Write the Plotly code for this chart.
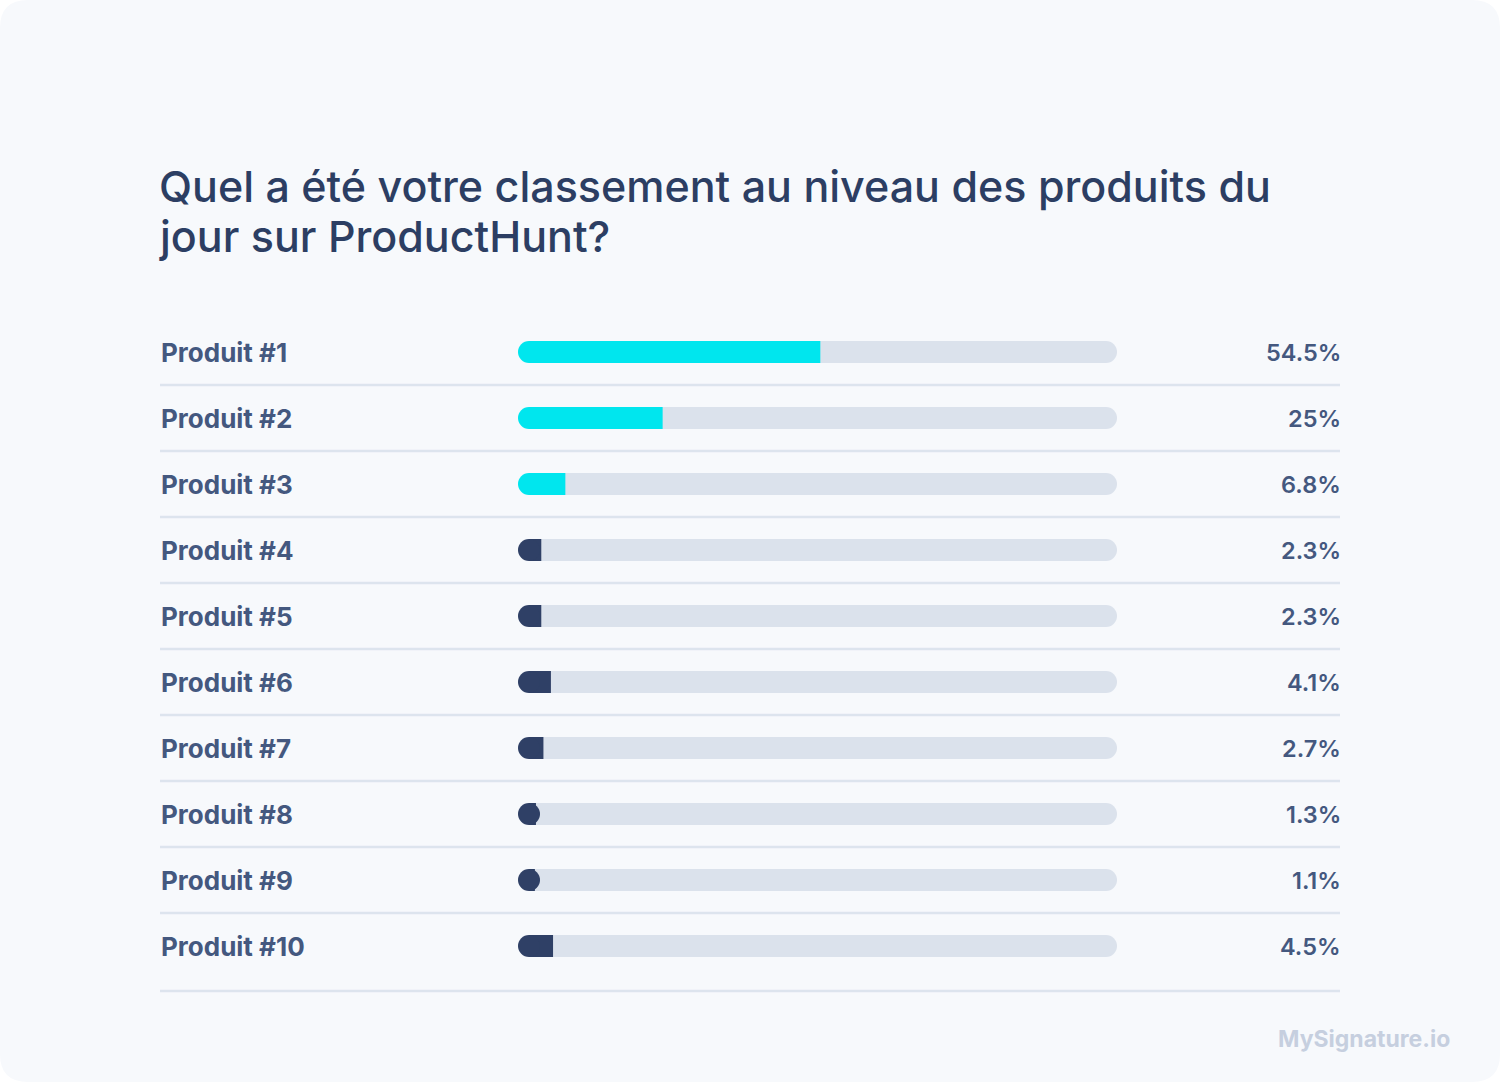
import plotly.graph_objects as go

W, H = 1500, 1082

# ---------------- data ----------------
categories = ["Produit #1", "Produit #2", "Produit #3", "Produit #4", "Produit #5",
              "Produit #6", "Produit #7", "Produit #8", "Produit #9", "Produit #10"]
values = [54.5, 25, 6.8, 2.3, 2.3, 4.1, 2.7, 1.3, 1.1, 4.5]
track_max = 110
title_lines = ["Quel a été votre classement au niveau des produits du",
               "jour sur ProductHunt?"]
watermark = "MySignature.io"

# ---------------- style ----------------
CYAN = "#00E6EE"
NAVY = "#2F4066"
TRACK = "#DBE2EC"
CARD = "#F7F9FC"
LABEL = "#44587F"
TITLE = "#2C3E63"
LINE = "#DDE4EE"
FONT = "Inter"

ypos = list(range(len(categories)))
colors = [CYAN if i < 3 else NAVY for i in ypos]

def px_x(p):
    return p / W

def px_y(p):
    return 1 - p / H

fig = go.Figure()

# grey track
fig.add_trace(go.Bar(
    x=[track_max] * len(categories), y=ypos, orientation="h",
    marker=dict(color=TRACK, cornerradius=11, line=dict(width=0)),
    width=1 / 3, hoverinfo="skip", showlegend=False,
))
# filled value bar
fig.add_trace(go.Bar(
    x=values, y=ypos, orientation="h",
    marker=dict(color=colors, line=dict(width=0)),
    width=1 / 3, hoverinfo="skip", showlegend=False,
))
# round left caps
fig.add_trace(go.Scatter(
    x=[0] * len(categories), y=ypos, mode="markers", cliponaxis=False,
    marker=dict(color=colors, size=22, line=dict(width=0)),
    hoverinfo="skip", showlegend=False,
))

annotations = []
for i, (c, v) in enumerate(zip(categories, values)):
    annotations.append(dict(
        x=px_x(159), xref="paper", y=i, yref="y", text=c,
        xanchor="left", yanchor="middle", showarrow=False,
        font=dict(family=FONT, size=26, color=LABEL, weight=700),
    ))
    annotations.append(dict(
        x=px_x(1343), xref="paper", y=i, yref="y", text=f"{v:g}%",
        xanchor="right", yanchor="middle", showarrow=False,
        font=dict(family=FONT, size=23.5, color=LABEL, weight=600),
    ))

for k, line in enumerate(title_lines):
    annotations.append(dict(
        x=px_x(157), xref="paper", y=px_y(186 + 50 * k), yref="paper", text=line,
        xanchor="left", yanchor="middle", align="left", showarrow=False,
        font=dict(family=FONT, size=43, color=TITLE, weight=500),
    ))
annotations.append(dict(
    x=px_x(1452), xref="paper", y=px_y(1039), yref="paper", text=watermark,
    xanchor="right", yanchor="middle", showarrow=False,
    font=dict(family=FONT, size=23, color="#C6CFDF", weight=700),
))

shapes = []
# card background with rounded corners
rx, ry = 28 / W, 28 / H
path = (f"M {rx},0 L {1-rx},0 Q 1,0 1,{ry} L 1,{1-ry} Q 1,1 {1-rx},1 "
        f"L {rx},1 Q 0,1 0,{1-ry} L 0,{ry} Q 0,0 {rx},0 Z")
shapes.append(dict(type="path", xref="paper", yref="paper", path=path,
                   fillcolor=CARD, line=dict(width=0), layer="below"))
# separators
for i in ypos:
    yl = i + 0.5 if i < len(categories) - 1 else i + 0.68
    shapes.append(dict(type="line", xref="paper", yref="y",
                       x0=px_x(160), x1=px_x(1340), y0=yl, y1=yl,
                       line=dict(color=LINE, width=2.5), layer="below"))

fig.update_layout(
    width=W, height=H,
    margin=dict(l=0, r=0, t=0, b=0),
    paper_bgcolor="white",
    plot_bgcolor="rgba(0,0,0,0)",
    barmode="overlay",
    showlegend=False,
    xaxis=dict(domain=[px_x(529), px_x(1117)], range=[0, track_max],
               visible=False, fixedrange=True),
    yaxis=dict(domain=[px_y(1012), px_y(319)], range=[10, -0.5],
               visible=False, fixedrange=True),
    annotations=annotations,
    shapes=shapes,
)

fig.write_html("out.html", config={"displayModeBar": False},
               post_script="document.body.style.margin='0';")
